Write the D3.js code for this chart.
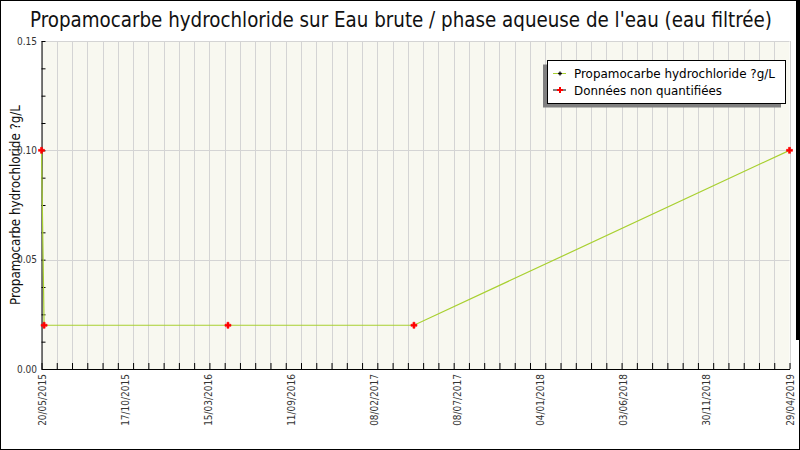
<!DOCTYPE html>
<html>
<head>
<meta charset="utf-8">
<script src="https://cdn.jsdelivr.net/npm/d3@7"></script>
<style>
  body { margin: 0; background: #fff; }
  svg { display: block; font-family: "DejaVu Sans Condensed", "DejaVu Sans", sans-serif; }
</style>
</head>
<body>
<svg id="chart" width="800" height="450"></svg>
<script>
// data
const sampleDates = ["2015-05-20", "2015-05-25", "2016-05-13", "2017-05-06", "2019-04-29"];
const sampleValues = [0.10, 0.02, 0.02, 0.02, 0.10];
const xLabels = ["20/05/2015", "17/10/2015", "15/03/2016", "11/09/2016", "08/02/2017",
                 "08/07/2017", "04/01/2018", "03/06/2018", "30/11/2018", "29/04/2019"];
const yTicks = [0, 0.05, 0.10, 0.15];
const legendItems = ["Propamocarbe hydrochloride ?g/L", "Données non quantifiées"];

const titleText = "Propamocarbe hydrochloride sur Eau brute / phase aqueuse de l'eau (eau filtrée)";
const yTitle = "Propamocarbe hydrochloride ?g/L";

const W = 800, H = 450;
const margin = { top: 41, right: 10.5, bottom: 81, left: 41.5 };
const x0 = margin.left, x1 = W - margin.right;
const y0 = H - margin.bottom, y1 = margin.top;

const parse = d3.utcParse("%Y-%m-%d");
const data = sampleDates.map((d, i) => ({ date: parse(d), value: sampleValues[i] }));

const svg = d3.select("#chart");

// outer frame
svg.append("rect")
    .attr("x", 0.5).attr("y", 0.5)
    .attr("width", W - 1).attr("height", H - 1)
    .attr("fill", "#fff").attr("stroke", "#000");
svg.append("rect")
    .attr("x", 796).attr("y", 0)
    .attr("width", 4).attr("height", 340)
    .attr("fill", "#000");

// scales
const tStart = data[0].date, tEnd = data[data.length - 1].date;
const xScale = d3.scaleUtc().domain([tStart, tEnd]).range([x0, x1]);
const yScale = d3.scaleLinear().domain([0, 0.15]).range([y0, y1]);

// plot background
svg.append("rect")
    .attr("x", x0).attr("y", y1)
    .attr("width", x1 - x0).attr("height", y0 - y1)
    .attr("fill", "#f8f8f0");

// minor x positions (grid + ticks)
const span = tEnd - tStart;
const minorX = d3.range(50).map(i => new Date(+tStart + i * span / 49));
const labelX = d3.range(xLabels.length).map(i => new Date(+tStart + i * span / (xLabels.length - 1)));

// vertical grid
svg.append("g")
    .selectAll("line")
    .data(minorX)
    .join("line")
    .attr("x1", d => Math.round(xScale(d)) + 0.5)
    .attr("x2", d => Math.round(xScale(d)) + 0.5)
    .attr("y1", y1).attr("y2", y0)
    .attr("stroke", "#d4d4d4");

// horizontal grid
svg.append("g")
    .selectAll("line")
    .data(yTicks)
    .join("line")
    .attr("x1", x0).attr("x2", x1)
    .attr("y1", d => Math.round(yScale(d)) + 0.5)
    .attr("y2", d => Math.round(yScale(d)) + 0.5)
    .attr("stroke", "#d4d4d4");

// x axis (ticks inside)
const xAxis = svg.append("g")
    .attr("transform", `translate(0,${y0})`)
    .call(d3.axisBottom(xScale).tickValues(minorX).tickSize(-6).tickSizeOuter(0).tickFormat(""));
xAxis.select(".domain").attr("stroke", "#000");
xAxis.selectAll(".tick line").attr("stroke", "#000");

// x labels
svg.append("g")
    .selectAll("text")
    .data(labelX)
    .join("text")
    .attr("transform", d => `translate(${xScale(d) + 4},${y0 + 5}) rotate(-90)`)
    .attr("text-anchor", "end")
    .attr("font-size", 10)
    .attr("fill", "#333")
    .text((d, i) => xLabels[i]);

// y axis (ticks inside, minor every 0.0125)
const yMinor = d3.range(0, 13).map(i => i * 0.0125);
const yAxis = svg.append("g")
    .attr("transform", `translate(${x0},0)`)
    .call(d3.axisLeft(yScale).tickValues(yMinor).tickSize(-4).tickSizeOuter(0).tickFormat(""));
yAxis.select(".domain").attr("stroke", "#000");
yAxis.selectAll(".tick line").attr("stroke", "#000");

svg.append("g")
    .selectAll("text")
    .data(yTicks)
    .join("text")
    .attr("x", 37)
    .attr("y", d => yScale(d) + 3.5)
    .attr("text-anchor", "end")
    .attr("font-size", 10)
    .attr("fill", "#333")
    .text(d => d3.format(".2f")(d));

// title
svg.append("text")
    .attr("x", 401)
    .attr("y", 27)
    .attr("text-anchor", "middle")
    .attr("font-size", 21)
    .attr("fill", "#111")
    .attr("textLength", 742)
    .attr("lengthAdjust", "spacingAndGlyphs")
    .text(titleText);

// y title
svg.append("text")
    .attr("transform", `translate(20,${(y0 + y1) / 2}) rotate(-90)`)
    .attr("text-anchor", "middle")
    .attr("font-size", 13.5)
    .attr("fill", "#111")
    .attr("textLength", 200)
    .attr("lengthAdjust", "spacingAndGlyphs")
    .text(yTitle);

// series line
const line = d3.line()
    .x(d => xScale(d.date))
    .y(d => yScale(d.value));

svg.append("path")
    .datum(data)
    .attr("d", line)
    .attr("fill", "none")
    .attr("stroke", "#a8d030")
    .attr("stroke-width", 1.2);

// non-quantified markers
const cross = d3.symbol().type(d3.symbolCross).size(20);
svg.append("g")
    .selectAll("path")
    .data(data)
    .join("path")
    .attr("transform", d => `translate(${xScale(d.date)},${yScale(d.value)})`)
    .attr("d", cross)
    .attr("fill", "#ff0000")
    .attr("stroke", "#ff0000")
    .attr("stroke-width", 0.6)
    .attr("stroke-linejoin", "round");

// legend
const lg = svg.append("g");
lg.append("rect")
    .attr("x", 543).attr("y", 64.5)
    .attr("width", 238).attr("height", 43)
    .attr("fill", "#808080");
lg.append("rect")
    .attr("x", 547.5).attr("y", 60.5)
    .attr("width", 238).attr("height", 43)
    .attr("fill", "#fff").attr("stroke", "#000");

const lgColors = ["#a8d030", "#000"];
const lgMarks = ["#000", "#ff0000"];
const lgWidths = [201, 148];
legendItems.forEach((t, i) => {
    const yy = 73.5 + i * 16.5;
    lg.append("line")
        .attr("x1", 553).attr("x2", 566)
        .attr("y1", yy).attr("y2", yy)
        .attr("stroke", lgColors[i]);
    lg.append("path")
        .attr("transform", `translate(560,${yy})`)
        .attr("d", d3.symbol().type(d3.symbolCross).size(i === 0 ? 8 : 20))
        .attr("fill", lgMarks[i]);
    lg.append("text")
        .attr("x", 574)
        .attr("y", yy + 4.5)
        .attr("font-size", 13)
        .attr("fill", "#000")
        .attr("textLength", lgWidths[i])
        .attr("lengthAdjust", "spacingAndGlyphs")
        .text(t);
});
</script>
</body>
</html>
